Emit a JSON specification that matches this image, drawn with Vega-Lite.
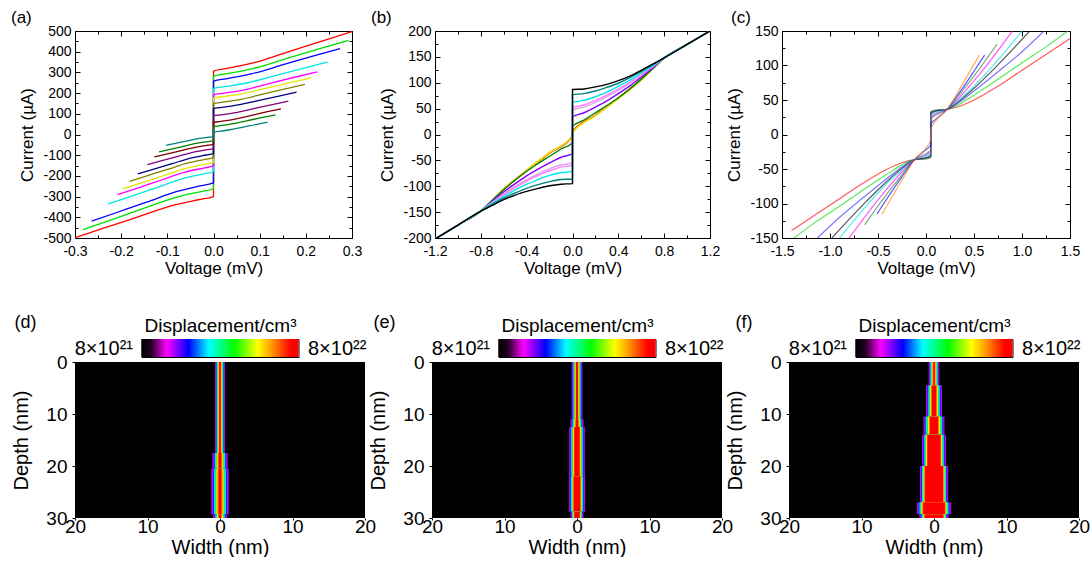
{
"$schema":"https://vega.github.io/schema/vega-lite/v6.json",
"padding":{"left":10,"top":8,"right":0,"bottom":0},
"background":"#ffffff",
"config":{
 "font":"Liberation Sans",
 "view":{"stroke":"#000","strokeWidth":1},
 "axis":{"grid":false,"domain":false,"labelColor":"#000","titleColor":"#000","tickColor":"#000","tickWidth":1,"labelFontSize":14,"titleFontSize":17,"titleFontWeight":"normal","labelFlush":false,"labelOverlap":false,"labelFont":"Liberation Sans","titleFont":"Liberation Sans"},
 "title":{"fontWeight":"normal","color":"#000","font":"Liberation Sans"},
 "locale":{"number":{"decimal":".","thousands":",","grouping":[3],"currency":["$",""],"minus":"-"}}
},
"datasets":{
"a":[
{"s":1,"V":-0.3,"I":-498},{"s":1,"V":-0.24,"I":-454},{"s":1,"V":-0.165,"I":-399},{"s":1,"V":-0.09,"I":-344},{"s":1,"V":-0.03,"I":-314},{"s":1,"V":0,"I":-300},{"s":1,"V":0,"I":306},{"s":1,"V":0.03,"I":319},{"s":1,"V":0.09,"I":348},{"s":1,"V":0.165,"I":402},{"s":1,"V":0.24,"I":455},{"s":1,"V":0.3,"I":497},
{"s":2,"V":-0.283,"I":-460},{"s":2,"V":-0.226,"I":-416},{"s":2,"V":-0.156,"I":-361},{"s":2,"V":-0.085,"I":-306},{"s":2,"V":-0.028,"I":-276},{"s":2,"V":0,"I":-262},{"s":2,"V":0,"I":282},{"s":2,"V":0.029,"I":294},{"s":2,"V":0.088,"I":320},{"s":2,"V":0.161,"I":369},{"s":2,"V":0.234,"I":417},{"s":2,"V":0.293,"I":455},
{"s":3,"V":-0.264,"I":-419},{"s":3,"V":-0.211,"I":-378},{"s":3,"V":-0.145,"I":-327},{"s":3,"V":-0.079,"I":-275},{"s":3,"V":-0.026,"I":-247},{"s":3,"V":0,"I":-234},{"s":3,"V":0,"I":258},{"s":3,"V":0.027,"I":269},{"s":3,"V":0.082,"I":293},{"s":3,"V":0.151,"I":337},{"s":3,"V":0.219,"I":381},{"s":3,"V":0.274,"I":415},
{"s":4,"V":-0.228,"I":-335},{"s":4,"V":-0.182,"I":-301},{"s":4,"V":-0.125,"I":-258},{"s":4,"V":-0.068,"I":-214},{"s":4,"V":-0.023,"I":-191},{"s":4,"V":0,"I":-180},{"s":4,"V":0,"I":222},{"s":4,"V":0.025,"I":231},{"s":4,"V":0.074,"I":250},{"s":4,"V":0.136,"I":286},{"s":4,"V":0.198,"I":322},{"s":4,"V":0.247,"I":350},
{"s":5,"V":-0.208,"I":-290},{"s":5,"V":-0.166,"I":-260},{"s":5,"V":-0.114,"I":-221},{"s":5,"V":-0.062,"I":-182},{"s":5,"V":-0.021,"I":-162},{"s":5,"V":0,"I":-152},{"s":5,"V":0,"I":192},{"s":5,"V":0.023,"I":200},{"s":5,"V":0.068,"I":216},{"s":5,"V":0.124,"I":248},{"s":5,"V":0.18,"I":279},{"s":5,"V":0.225,"I":303},
{"s":6,"V":-0.197,"I":-263},{"s":6,"V":-0.158,"I":-235},{"s":6,"V":-0.108,"I":-199},{"s":6,"V":-0.059,"I":-163},{"s":6,"V":-0.02,"I":-144},{"s":6,"V":0,"I":-135},{"s":6,"V":0,"I":176},{"s":6,"V":0.021,"I":183},{"s":6,"V":0.064,"I":198},{"s":6,"V":0.117,"I":225},{"s":6,"V":0.17,"I":253},{"s":6,"V":0.212,"I":274},
{"s":7,"V":-0.182,"I":-226},{"s":7,"V":-0.146,"I":-201},{"s":7,"V":-0.1,"I":-169},{"s":7,"V":-0.055,"I":-137},{"s":7,"V":-0.018,"I":-120},{"s":7,"V":0,"I":-112},{"s":7,"V":0,"I":150},{"s":7,"V":0.02,"I":156},{"s":7,"V":0.059,"I":170},{"s":7,"V":0.109,"I":196},{"s":7,"V":0.158,"I":222},{"s":7,"V":0.198,"I":242},
{"s":8,"V":-0.164,"I":-190},{"s":8,"V":-0.131,"I":-168},{"s":8,"V":-0.09,"I":-141},{"s":8,"V":-0.049,"I":-114},{"s":8,"V":-0.016,"I":-99},{"s":8,"V":0,"I":-92},{"s":8,"V":0,"I":125},{"s":8,"V":0.018,"I":131},{"s":8,"V":0.054,"I":143},{"s":8,"V":0.099,"I":165},{"s":8,"V":0.144,"I":187},{"s":8,"V":0.18,"I":205},
{"s":9,"V":-0.143,"I":-145},{"s":9,"V":-0.114,"I":-128},{"s":9,"V":-0.079,"I":-107},{"s":9,"V":-0.043,"I":-85},{"s":9,"V":-0.014,"I":-73},{"s":9,"V":0,"I":-68},{"s":9,"V":0,"I":90},{"s":9,"V":0.016,"I":95},{"s":9,"V":0.049,"I":106},{"s":9,"V":0.089,"I":126},{"s":9,"V":0.13,"I":145},{"s":9,"V":0.162,"I":161},
{"s":10,"V":-0.128,"I":-108},{"s":10,"V":-0.102,"I":-95},{"s":10,"V":-0.07,"I":-78},{"s":10,"V":-0.038,"I":-61},{"s":10,"V":-0.013,"I":-52},{"s":10,"V":0,"I":-48},{"s":10,"V":0,"I":58},{"s":10,"V":0.015,"I":63},{"s":10,"V":0.044,"I":73},{"s":10,"V":0.08,"I":91},{"s":10,"V":0.117,"I":110},{"s":10,"V":0.146,"I":124},
{"s":11,"V":-0.118,"I":-84},{"s":11,"V":-0.094,"I":-72},{"s":11,"V":-0.065,"I":-57},{"s":11,"V":-0.035,"I":-42},{"s":11,"V":-0.012,"I":-34},{"s":11,"V":0,"I":-30},{"s":11,"V":0,"I":38},{"s":11,"V":0.013,"I":42},{"s":11,"V":0.04,"I":51},{"s":11,"V":0.074,"I":67},{"s":11,"V":0.107,"I":83},{"s":11,"V":0.134,"I":95},
{"s":12,"V":-0.103,"I":-52},{"s":12,"V":-0.082,"I":-43},{"s":12,"V":-0.057,"I":-31},{"s":12,"V":-0.031,"I":-19},{"s":12,"V":-0.01,"I":-13},{"s":12,"V":0,"I":-10},{"s":12,"V":0,"I":12},{"s":12,"V":0.012,"I":15},{"s":12,"V":0.035,"I":23},{"s":12,"V":0.064,"I":36},{"s":12,"V":0.094,"I":49},{"s":12,"V":0.117,"I":60}
],
"b":[
{"s":1,"V":-1.2,"I":-202},{"s":1,"V":-1.0,"I":-175},{"s":1,"V":-0.8,"I":-148},{"s":1,"V":-0.6,"I":-106},{"s":1,"V":-0.4,"I":-70},{"s":1,"V":-0.2,"I":-36},{"s":1,"V":0,"I":-4},{"s":1,"V":0,"I":5},{"s":1,"V":0.2,"I":37},{"s":1,"V":0.4,"I":70},{"s":1,"V":0.6,"I":106},{"s":1,"V":0.8,"I":148},{"s":1,"V":1.0,"I":174},{"s":1,"V":1.2,"I":200},
{"s":2,"V":-1.2,"I":-202},{"s":2,"V":-1.0,"I":-175},{"s":2,"V":-0.8,"I":-148},{"s":2,"V":-0.6,"I":-105},{"s":2,"V":-0.4,"I":-69},{"s":2,"V":-0.2,"I":-35},{"s":2,"V":0,"I":-2},{"s":2,"V":0,"I":4},{"s":2,"V":0.2,"I":37},{"s":2,"V":0.4,"I":71},{"s":2,"V":0.6,"I":107},{"s":2,"V":0.8,"I":148},{"s":2,"V":1.0,"I":174},{"s":2,"V":1.2,"I":200},
{"s":3,"V":-1.2,"I":-202},{"s":3,"V":-1.0,"I":-175},{"s":3,"V":-0.8,"I":-148},{"s":3,"V":-0.6,"I":-106},{"s":3,"V":-0.4,"I":-69},{"s":3,"V":-0.2,"I":-35},{"s":3,"V":0,"I":-3},{"s":3,"V":0,"I":3},{"s":3,"V":0.2,"I":36},{"s":3,"V":0.4,"I":69},{"s":3,"V":0.6,"I":105},{"s":3,"V":0.8,"I":148},{"s":3,"V":1.0,"I":174},{"s":3,"V":1.2,"I":200},
{"s":4,"V":-1.2,"I":-202},{"s":4,"V":-1.0,"I":-175},{"s":4,"V":-0.8,"I":-148},{"s":4,"V":-0.7,"I":-127},{"s":4,"V":-0.6,"I":-107},{"s":4,"V":-0.5,"I":-88},{"s":4,"V":-0.4,"I":-71},{"s":4,"V":-0.3,"I":-56},{"s":4,"V":-0.2,"I":-42},{"s":4,"V":-0.1,"I":-28},{"s":4,"V":0,"I":-16},{"s":4,"V":0,"I":16},{"s":4,"V":0.1,"I":28},{"s":4,"V":0.2,"I":42},{"s":4,"V":0.3,"I":56},{"s":4,"V":0.4,"I":71},{"s":4,"V":0.5,"I":88},{"s":4,"V":0.6,"I":107},{"s":4,"V":0.7,"I":127},{"s":4,"V":0.8,"I":148},{"s":4,"V":1.0,"I":174},{"s":4,"V":1.2,"I":200},
{"s":5,"V":-1.2,"I":-202},{"s":5,"V":-1.0,"I":-175},{"s":5,"V":-0.8,"I":-148},{"s":5,"V":-0.7,"I":-129},{"s":5,"V":-0.6,"I":-111},{"s":5,"V":-0.5,"I":-95},{"s":5,"V":-0.4,"I":-80},{"s":5,"V":-0.3,"I":-67},{"s":5,"V":-0.2,"I":-55},{"s":5,"V":-0.1,"I":-44},{"s":5,"V":0,"I":-37},{"s":5,"V":0,"I":34},{"s":5,"V":0.1,"I":42},{"s":5,"V":0.2,"I":53},{"s":5,"V":0.3,"I":65},{"s":5,"V":0.4,"I":79},{"s":5,"V":0.5,"I":94},{"s":5,"V":0.6,"I":111},{"s":5,"V":0.7,"I":129},{"s":5,"V":0.8,"I":148},{"s":5,"V":1.0,"I":174},{"s":5,"V":1.2,"I":200},
{"s":6,"V":-1.2,"I":-202},{"s":6,"V":-1.0,"I":-175},{"s":6,"V":-0.8,"I":-148},{"s":6,"V":-0.7,"I":-131},{"s":6,"V":-0.6,"I":-115},{"s":6,"V":-0.5,"I":-100},{"s":6,"V":-0.4,"I":-87},{"s":6,"V":-0.3,"I":-76},{"s":6,"V":-0.2,"I":-66},{"s":6,"V":-0.1,"I":-59},{"s":6,"V":0,"I":-54},{"s":6,"V":0,"I":47},{"s":6,"V":0.1,"I":53},{"s":6,"V":0.2,"I":62},{"s":6,"V":0.3,"I":73},{"s":6,"V":0.4,"I":85},{"s":6,"V":0.5,"I":99},{"s":6,"V":0.6,"I":115},{"s":6,"V":0.7,"I":131},{"s":6,"V":0.8,"I":148},{"s":6,"V":1.0,"I":174},{"s":6,"V":1.2,"I":200},
{"s":7,"V":-1.2,"I":-202},{"s":7,"V":-1.0,"I":-175},{"s":7,"V":-0.8,"I":-148},{"s":7,"V":-0.7,"I":-132},{"s":7,"V":-0.6,"I":-117},{"s":7,"V":-0.5,"I":-102},{"s":7,"V":-0.4,"I":-90},{"s":7,"V":-0.3,"I":-79},{"s":7,"V":-0.2,"I":-70},{"s":7,"V":-0.1,"I":-63},{"s":7,"V":0,"I":-59},{"s":7,"V":0,"I":52},{"s":7,"V":0.1,"I":57},{"s":7,"V":0.2,"I":66},{"s":7,"V":0.3,"I":76},{"s":7,"V":0.4,"I":88},{"s":7,"V":0.5,"I":101},{"s":7,"V":0.6,"I":116},{"s":7,"V":0.7,"I":132},{"s":7,"V":0.8,"I":148},{"s":7,"V":1.0,"I":174},{"s":7,"V":1.2,"I":200},
{"s":8,"V":-1.2,"I":-202},{"s":8,"V":-1.0,"I":-175},{"s":8,"V":-0.8,"I":-148},{"s":8,"V":-0.7,"I":-133},{"s":8,"V":-0.6,"I":-120},{"s":8,"V":-0.5,"I":-107},{"s":8,"V":-0.4,"I":-96},{"s":8,"V":-0.3,"I":-87},{"s":8,"V":-0.2,"I":-79},{"s":8,"V":-0.1,"I":-74},{"s":8,"V":0,"I":-71},{"s":8,"V":0,"I":62},{"s":8,"V":0.1,"I":66},{"s":8,"V":0.2,"I":73},{"s":8,"V":0.3,"I":82},{"s":8,"V":0.4,"I":93},{"s":8,"V":0.5,"I":105},{"s":8,"V":0.6,"I":119},{"s":8,"V":0.7,"I":133},{"s":8,"V":0.8,"I":148},{"s":8,"V":1.0,"I":174},{"s":8,"V":1.2,"I":200},
{"s":9,"V":-1.2,"I":-202},{"s":9,"V":-1.0,"I":-175},{"s":9,"V":-0.8,"I":-148},{"s":9,"V":-0.7,"I":-135},{"s":9,"V":-0.6,"I":-123},{"s":9,"V":-0.5,"I":-113},{"s":9,"V":-0.4,"I":-104},{"s":9,"V":-0.3,"I":-97},{"s":9,"V":-0.2,"I":-91},{"s":9,"V":-0.1,"I":-87},{"s":9,"V":0,"I":-86},{"s":9,"V":0,"I":77},{"s":9,"V":0.1,"I":79},{"s":9,"V":0.2,"I":84},{"s":9,"V":0.3,"I":91},{"s":9,"V":0.4,"I":99},{"s":9,"V":0.5,"I":110},{"s":9,"V":0.6,"I":122},{"s":9,"V":0.7,"I":135},{"s":9,"V":0.8,"I":148},{"s":9,"V":1.0,"I":174},{"s":9,"V":1.2,"I":200},
{"s":10,"V":-1.2,"I":-202},{"s":10,"V":-1.0,"I":-175},{"s":10,"V":-0.8,"I":-148},{"s":10,"V":-0.7,"I":-137},{"s":10,"V":-0.6,"I":-126},{"s":10,"V":-0.5,"I":-117},{"s":10,"V":-0.4,"I":-110},{"s":10,"V":-0.3,"I":-104},{"s":10,"V":-0.2,"I":-99},{"s":10,"V":-0.1,"I":-96},{"s":10,"V":0,"I":-95},{"s":10,"V":0,"I":87},{"s":10,"V":0.1,"I":88},{"s":10,"V":0.2,"I":92},{"s":10,"V":0.3,"I":97},{"s":10,"V":0.4,"I":104},{"s":10,"V":0.5,"I":113},{"s":10,"V":0.6,"I":124},{"s":10,"V":0.7,"I":136},{"s":10,"V":0.8,"I":148},{"s":10,"V":1.0,"I":174},{"s":10,"V":1.2,"I":200}
],
"c":[
{"s":1,"V":-1.4,"I":-139},{"s":1,"V":-1.15,"I":-116},{"s":1,"V":-0.9,"I":-93},{"s":1,"V":-0.65,"I":-70},{"s":1,"V":-0.4,"I":-50},{"s":1,"V":-0.25,"I":-41},{"s":1,"V":-0.12,"I":-36.5},{"s":1,"V":0.01,"I":-35},{"s":1,"V":0.05,"I":-33},{"s":1,"V":0.05,"I":33},{"s":1,"V":0.09,"I":35},{"s":1,"V":0.22,"I":36.5},{"s":1,"V":0.35,"I":41},{"s":1,"V":0.5,"I":50},{"s":1,"V":0.75,"I":70},{"s":1,"V":1.0,"I":93},{"s":1,"V":1.25,"I":116},{"s":1,"V":1.5,"I":139},
{"s":2,"V":-1.376,"I":-150},{"s":2,"V":-1.15,"I":-127},{"s":2,"V":-0.9,"I":-104},{"s":2,"V":-0.65,"I":-80},{"s":2,"V":-0.4,"I":-57},{"s":2,"V":-0.25,"I":-44},{"s":2,"V":-0.12,"I":-36.5},{"s":2,"V":0.01,"I":-35},{"s":2,"V":0.05,"I":-33},{"s":2,"V":0.05,"I":33},{"s":2,"V":0.09,"I":35},{"s":2,"V":0.22,"I":36.5},{"s":2,"V":0.35,"I":44},{"s":2,"V":0.5,"I":57},{"s":2,"V":0.75,"I":80},{"s":2,"V":1.0,"I":104},{"s":2,"V":1.25,"I":127},{"s":2,"V":1.476,"I":150},
{"s":3,"V":-1.13,"I":-150},{"s":3,"V":-0.9,"I":-120},{"s":3,"V":-0.65,"I":-91},{"s":3,"V":-0.4,"I":-63},{"s":3,"V":-0.25,"I":-47},{"s":3,"V":-0.12,"I":-36.5},{"s":3,"V":0.01,"I":-34},{"s":3,"V":0.05,"I":-32},{"s":3,"V":0.05,"I":32},{"s":3,"V":0.09,"I":34},{"s":3,"V":0.22,"I":36.5},{"s":3,"V":0.35,"I":47},{"s":3,"V":0.5,"I":63},{"s":3,"V":0.75,"I":91},{"s":3,"V":1.0,"I":120},{"s":3,"V":1.23,"I":150},
{"s":4,"V":-0.98,"I":-150},{"s":4,"V":-0.65,"I":-101},{"s":4,"V":-0.4,"I":-67},{"s":4,"V":-0.25,"I":-49},{"s":4,"V":-0.12,"I":-36.5},{"s":4,"V":0.01,"I":-33},{"s":4,"V":0.05,"I":-30},{"s":4,"V":0.05,"I":30},{"s":4,"V":0.09,"I":33},{"s":4,"V":0.22,"I":36.5},{"s":4,"V":0.35,"I":49},{"s":4,"V":0.5,"I":67},{"s":4,"V":0.75,"I":101},{"s":4,"V":1.08,"I":150},
{"s":5,"V":-0.9,"I":-150},{"s":5,"V":-0.65,"I":-108},{"s":5,"V":-0.4,"I":-70},{"s":5,"V":-0.25,"I":-51},{"s":5,"V":-0.12,"I":-36.5},{"s":5,"V":0.01,"I":-31},{"s":5,"V":0.05,"I":-28},{"s":5,"V":0.05,"I":28},{"s":5,"V":0.09,"I":31},{"s":5,"V":0.22,"I":36.5},{"s":5,"V":0.35,"I":51},{"s":5,"V":0.5,"I":70},{"s":5,"V":0.75,"I":108},{"s":5,"V":1.0,"I":150},
{"s":6,"V":-0.8,"I":-150},{"s":6,"V":-0.45,"I":-86},{"s":6,"V":-0.25,"I":-54},{"s":6,"V":-0.12,"I":-36.5},{"s":6,"V":0.01,"I":-29},{"s":6,"V":0.05,"I":-25},{"s":6,"V":0.05,"I":25},{"s":6,"V":0.09,"I":29},{"s":6,"V":0.22,"I":36.5},{"s":6,"V":0.35,"I":54},{"s":6,"V":0.55,"I":86},{"s":6,"V":0.9,"I":150},
{"s":7,"V":-0.64,"I":-131},{"s":7,"V":-0.45,"I":-94},{"s":7,"V":-0.25,"I":-58},{"s":7,"V":-0.12,"I":-36.5},{"s":7,"V":0.01,"I":-27},{"s":7,"V":0.05,"I":-22},{"s":7,"V":0.05,"I":22},{"s":7,"V":0.09,"I":27},{"s":7,"V":0.22,"I":36.5},{"s":7,"V":0.35,"I":58},{"s":7,"V":0.55,"I":94},{"s":7,"V":0.74,"I":131},
{"s":8,"V":-0.51,"I":-115},{"s":8,"V":-0.25,"I":-61},{"s":8,"V":-0.12,"I":-36.5},{"s":8,"V":0,"I":-22},{"s":8,"V":0.05,"I":-15},{"s":8,"V":0.05,"I":15},{"s":8,"V":0.1,"I":22},{"s":8,"V":0.22,"I":36.5},{"s":8,"V":0.35,"I":61},{"s":8,"V":0.61,"I":115},
{"s":9,"V":-0.456,"I":-115},{"s":9,"V":-0.25,"I":-66},{"s":9,"V":-0.12,"I":-36.5},{"s":9,"V":0.05,"I":-8},{"s":9,"V":0.05,"I":8},{"s":9,"V":0.22,"I":36.5},{"s":9,"V":0.35,"I":66},{"s":9,"V":0.556,"I":115}
],
"d":[
{"x1":-0.68,"x2":0.68,"d1":0,"d2":17.5,"v":1},{"x1":-0.56,"x2":0.56,"d1":0,"d2":17.5,"v":2},{"x1":-0.46,"x2":0.46,"d1":0,"d2":17.5,"v":3},{"x1":-0.37,"x2":0.37,"d1":0,"d2":17.5,"v":4},{"x1":-0.29,"x2":0.29,"d1":0,"d2":17.5,"v":5},{"x1":-0.2,"x2":0.2,"d1":0,"d2":17.5,"v":6},{"x1":-0.12,"x2":0.12,"d1":0,"d2":17.5,"v":7},
{"x1":-1.05,"x2":1.05,"d1":17.5,"d2":20.5,"v":1},{"x1":-0.86,"x2":0.86,"d1":17.5,"d2":20.5,"v":2},{"x1":-0.71,"x2":0.71,"d1":17.5,"d2":20.5,"v":3},{"x1":-0.58,"x2":0.58,"d1":17.5,"d2":20.5,"v":4},{"x1":-0.44,"x2":0.44,"d1":17.5,"d2":20.5,"v":5},{"x1":-0.32,"x2":0.32,"d1":17.5,"d2":20.5,"v":6},{"x1":-0.18,"x2":0.18,"d1":17.5,"d2":20.5,"v":7},
{"x1":-1.2,"x2":1.2,"d1":20.5,"d2":29.3,"v":1},{"x1":-0.98,"x2":0.98,"d1":20.5,"d2":29.3,"v":2},{"x1":-0.82,"x2":0.82,"d1":20.5,"d2":29.3,"v":3},{"x1":-0.66,"x2":0.66,"d1":20.5,"d2":29.3,"v":4},{"x1":-0.5,"x2":0.5,"d1":20.5,"d2":29.3,"v":5},{"x1":-0.36,"x2":0.36,"d1":20.5,"d2":29.3,"v":6},{"x1":-0.2,"x2":0.2,"d1":20.5,"d2":29.3,"v":7},
{"x1":-0.95,"x2":0.95,"d1":29.3,"d2":30,"v":1},{"x1":-0.78,"x2":0.78,"d1":29.3,"d2":30,"v":2},{"x1":-0.65,"x2":0.65,"d1":29.3,"d2":30,"v":3},{"x1":-0.52,"x2":0.52,"d1":29.3,"d2":30,"v":4},{"x1":-0.4,"x2":0.4,"d1":29.3,"d2":30,"v":5},{"x1":-0.28,"x2":0.28,"d1":29.3,"d2":30,"v":6},{"x1":-0.16,"x2":0.16,"d1":29.3,"d2":30,"v":7}
],
"e":[
{"x1":-0.74,"x2":0.74,"d1":0,"d2":11,"v":1},{"x1":-0.61,"x2":0.61,"d1":0,"d2":11,"v":2},{"x1":-0.5,"x2":0.5,"d1":0,"d2":11,"v":3},{"x1":-0.41,"x2":0.41,"d1":0,"d2":11,"v":4},{"x1":-0.31,"x2":0.31,"d1":0,"d2":11,"v":5},{"x1":-0.22,"x2":0.22,"d1":0,"d2":11,"v":6},{"x1":-0.13,"x2":0.13,"d1":0,"d2":11,"v":7},
{"x1":-0.9,"x2":0.9,"d1":11,"d2":12.5,"v":1},{"x1":-0.74,"x2":0.74,"d1":11,"d2":12.5,"v":2},{"x1":-0.61,"x2":0.61,"d1":11,"d2":12.5,"v":3},{"x1":-0.5,"x2":0.5,"d1":11,"d2":12.5,"v":4},{"x1":-0.38,"x2":0.38,"d1":11,"d2":12.5,"v":5},{"x1":-0.27,"x2":0.27,"d1":11,"d2":12.5,"v":6},{"x1":-0.15,"x2":0.15,"d1":11,"d2":12.5,"v":7},
{"x1":-1.08,"x2":1.08,"d1":12.5,"d2":22,"v":1},{"x1":-0.93,"x2":0.93,"d1":12.5,"d2":22,"v":2},{"x1":-0.8,"x2":0.8,"d1":12.5,"d2":22,"v":3},{"x1":-0.68,"x2":0.68,"d1":12.5,"d2":22,"v":4},{"x1":-0.57,"x2":0.57,"d1":12.5,"d2":22,"v":5},{"x1":-0.46,"x2":0.46,"d1":12.5,"d2":22,"v":6},{"x1":-0.36,"x2":0.36,"d1":12.5,"d2":22,"v":7},
{"x1":-1.1,"x2":1.1,"d1":22,"d2":28.8,"v":1},{"x1":-0.96,"x2":0.96,"d1":22,"d2":28.8,"v":2},{"x1":-0.84,"x2":0.84,"d1":22,"d2":28.8,"v":3},{"x1":-0.73,"x2":0.73,"d1":22,"d2":28.8,"v":4},{"x1":-0.63,"x2":0.63,"d1":22,"d2":28.8,"v":5},{"x1":-0.54,"x2":0.54,"d1":22,"d2":28.8,"v":6},{"x1":-0.45,"x2":0.45,"d1":22,"d2":28.8,"v":7},
{"x1":-0.9,"x2":0.9,"d1":28.8,"d2":30,"v":1},{"x1":-0.78,"x2":0.78,"d1":28.8,"d2":30,"v":2},{"x1":-0.68,"x2":0.68,"d1":28.8,"d2":30,"v":3},{"x1":-0.59,"x2":0.59,"d1":28.8,"d2":30,"v":4},{"x1":-0.51,"x2":0.51,"d1":28.8,"d2":30,"v":5},{"x1":-0.44,"x2":0.44,"d1":28.8,"d2":30,"v":6},{"x1":-0.37,"x2":0.37,"d1":28.8,"d2":30,"v":7}
],
"f":[
{"x1":-0.73,"x2":0.73,"d1":0,"d2":4.5,"v":1},{"x1":-0.6,"x2":0.6,"d1":0,"d2":4.5,"v":2},{"x1":-0.5,"x2":0.5,"d1":0,"d2":4.5,"v":3},{"x1":-0.4,"x2":0.4,"d1":0,"d2":4.5,"v":4},{"x1":-0.31,"x2":0.31,"d1":0,"d2":4.5,"v":5},{"x1":-0.22,"x2":0.22,"d1":0,"d2":4.5,"v":6},{"x1":-0.12,"x2":0.12,"d1":0,"d2":4.5,"v":7},
{"x1":-1.1,"x2":1.1,"d1":4.5,"d2":10.5,"v":1},{"x1":-0.94,"x2":0.94,"d1":4.5,"d2":10.5,"v":2},{"x1":-0.79,"x2":0.79,"d1":4.5,"d2":10.5,"v":3},{"x1":-0.66,"x2":0.66,"d1":4.5,"d2":10.5,"v":4},{"x1":-0.53,"x2":0.53,"d1":4.5,"d2":10.5,"v":5},{"x1":-0.42,"x2":0.42,"d1":4.5,"d2":10.5,"v":6},{"x1":-0.3,"x2":0.3,"d1":4.5,"d2":10.5,"v":7},
{"x1":-1.45,"x2":1.45,"d1":10.5,"d2":14,"v":1},{"x1":-1.28,"x2":1.28,"d1":10.5,"d2":14,"v":2},{"x1":-1.13,"x2":1.13,"d1":10.5,"d2":14,"v":3},{"x1":-0.99,"x2":0.99,"d1":10.5,"d2":14,"v":4},{"x1":-0.84,"x2":0.84,"d1":10.5,"d2":14,"v":5},{"x1":-0.7,"x2":0.7,"d1":10.5,"d2":14,"v":6},{"x1":-0.55,"x2":0.55,"d1":10.5,"d2":14,"v":7},
{"x1":-1.65,"x2":1.65,"d1":14,"d2":20,"v":1},{"x1":-1.49,"x2":1.49,"d1":14,"d2":20,"v":2},{"x1":-1.35,"x2":1.35,"d1":14,"d2":20,"v":3},{"x1":-1.22,"x2":1.22,"d1":14,"d2":20,"v":4},{"x1":-1.11,"x2":1.11,"d1":14,"d2":20,"v":5},{"x1":-0.99,"x2":0.99,"d1":14,"d2":20,"v":6},{"x1":-0.91,"x2":0.91,"d1":14,"d2":20,"v":7},
{"x1":-1.95,"x2":1.95,"d1":20,"d2":27,"v":1},{"x1":-1.79,"x2":1.79,"d1":20,"d2":27,"v":2},{"x1":-1.66,"x2":1.66,"d1":20,"d2":27,"v":3},{"x1":-1.54,"x2":1.54,"d1":20,"d2":27,"v":4},{"x1":-1.44,"x2":1.44,"d1":20,"d2":27,"v":5},{"x1":-1.35,"x2":1.35,"d1":20,"d2":27,"v":6},{"x1":-1.25,"x2":1.25,"d1":20,"d2":27,"v":7},
{"x1":-2.35,"x2":2.35,"d1":27,"d2":29.3,"v":1},{"x1":-2.16,"x2":2.16,"d1":27,"d2":29.3,"v":2},{"x1":-2.0,"x2":2.0,"d1":27,"d2":29.3,"v":3},{"x1":-1.86,"x2":1.86,"d1":27,"d2":29.3,"v":4},{"x1":-1.74,"x2":1.74,"d1":27,"d2":29.3,"v":5},{"x1":-1.62,"x2":1.62,"d1":27,"d2":29.3,"v":6},{"x1":-1.5,"x2":1.5,"d1":27,"d2":29.3,"v":7},
{"x1":-2.0,"x2":2.0,"d1":29.3,"d2":30,"v":1},{"x1":-1.84,"x2":1.84,"d1":29.3,"d2":30,"v":2},{"x1":-1.7,"x2":1.7,"d1":29.3,"d2":30,"v":3},{"x1":-1.58,"x2":1.58,"d1":29.3,"d2":30,"v":4},{"x1":-1.48,"x2":1.48,"d1":29.3,"d2":30,"v":5},{"x1":-1.38,"x2":1.38,"d1":29.3,"d2":30,"v":6},{"x1":-1.28,"x2":1.28,"d1":29.3,"d2":30,"v":7}
],
"cb":[{"lo":0,"hi":1}]
},
"vconcat":[
{"hconcat":[
 {"width":277,"height":207,
  "title":{"text":"(a)","anchor":"start","frame":"group","dx":-64,"dy":3,"offset":0,"fontSize":17},
  "data":{"name":"a"},
  "layer":[
   {"mark":{"type":"line","strokeWidth":1.3,"clip":true,"interpolate":"monotone"},
    "encoding":{
     "x":{"field":"V","type":"quantitative","scale":{"domain":[-0.3,0.3],"nice":false,"zero":false},"axis":{"orient":"bottom","values":[-0.3,-0.2,-0.1,0,0.1,0.2,0.3],"format":".1f","tickSize":-5,"labelPadding":11,"title":"Voltage (mV)","titlePadding":2}},
     "y":{"field":"I","type":"quantitative","scale":{"domain":[-500,500],"nice":false,"zero":false},"axis":{"orient":"left","values":[-500,-400,-300,-200,-100,0,100,200,300,400,500],"format":"d","tickSize":-5,"labelPadding":9,"title":"Current (µA)","titlePadding":6}},
     "color":{"field":"s","type":"nominal","scale":{"domain":[1,2,3,4,5,6,7,8,9,10,11,12],"range":["#ff0000","#00e000","#0000ff","#00e5e5","#ff00ff","#e6e600","#808000","#000080","#800080","#800000","#008000","#008080"]},"legend":null},
     "order":{"field":"I","type":"quantitative"}}},
   {"mark":{"type":"point","opacity":0},
    "encoding":{
     "x":{"field":"V","type":"quantitative","scale":{"domain":[-0.3,0.3],"nice":false,"zero":false},"axis":{"orient":"top","values":[-0.3,-0.2,-0.1,0,0.1,0.2,0.3],"labels":false,"tickSize":-5,"title":null}},
     "y":{"field":"I","type":"quantitative","scale":{"domain":[-500,500],"nice":false,"zero":false},"axis":{"orient":"right","values":[-500,-400,-300,-200,-100,0,100,200,300,400,500],"labels":false,"tickSize":-5,"title":null}}}},
   {"mark":{"type":"point","opacity":0},
    "encoding":{
     "x":{"field":"V","type":"quantitative","scale":{"domain":[-0.3,0.3],"nice":false,"zero":false},"axis":{"orient":"bottom","values":[-0.25,-0.15,-0.05,0.05,0.15,0.25],"labels":false,"tickSize":-3,"title":null}},
     "y":{"field":"I","type":"quantitative","scale":{"domain":[-500,500],"nice":false,"zero":false},"axis":{"orient":"left","values":[-450,-350,-250,-150,-50,50,150,250,350,450],"labels":false,"tickSize":-3,"title":null}}}},
   {"mark":{"type":"point","opacity":0},
    "encoding":{
     "x":{"field":"V","type":"quantitative","scale":{"domain":[-0.3,0.3],"nice":false,"zero":false},"axis":{"orient":"top","values":[-0.25,-0.15,-0.05,0.05,0.15,0.25],"labels":false,"tickSize":-3,"title":null}},
     "y":{"field":"I","type":"quantitative","scale":{"domain":[-500,500],"nice":false,"zero":false},"axis":{"orient":"right","values":[-450,-350,-250,-150,-50,50,150,250,350,450],"labels":false,"tickSize":-3,"title":null}}}}
  ],
  "resolve":{"axis":{"x":"independent","y":"independent"}}
 },
 {"hconcat":[
  {"width":275,"height":207,
   "title":{"text":"(b)","anchor":"start","frame":"group","dx":-64,"dy":3,"offset":0,"fontSize":17},
   "data":{"name":"b"},
   "layer":[
    {"mark":{"type":"line","strokeWidth":1.4,"clip":true,"interpolate":"monotone"},
     "encoding":{
      "x":{"field":"V","type":"quantitative","scale":{"domain":[-1.2,1.2],"nice":false,"zero":false},"axis":{"orient":"bottom","values":[-1.2,-0.8,-0.4,0,0.4,0.8,1.2],"format":".1f","tickSize":-5,"labelPadding":11,"title":"Voltage (mV)","titlePadding":2}},
      "y":{"field":"I","type":"quantitative","scale":{"domain":[-200,200],"nice":false,"zero":false},"axis":{"orient":"left","values":[-200,-150,-100,-50,0,50,100,150,200],"format":"d","tickSize":-5,"labelPadding":9,"title":"Current (µA)","titlePadding":6}},
      "color":{"field":"s","type":"nominal","scale":{"domain":[1,2,3,4,5,6,7,8,9,10],"range":["#ff0000","#ff8000","#e6e600","#008000","#8000ff","#e0a0f0","#ff80ff","#00e5ee","#008080","#000000"]},"legend":null},
      "order":{"field":"I","type":"quantitative"}}},
    {"mark":{"type":"point","opacity":0},
     "encoding":{
      "x":{"field":"V","type":"quantitative","scale":{"domain":[-1.2,1.2],"nice":false,"zero":false},"axis":{"orient":"top","values":[-1.2,-0.8,-0.4,0,0.4,0.8,1.2],"labels":false,"tickSize":-5,"title":null}},
      "y":{"field":"I","type":"quantitative","scale":{"domain":[-200,200],"nice":false,"zero":false},"axis":{"orient":"right","values":[-200,-150,-100,-50,0,50,100,150,200],"labels":false,"tickSize":-5,"title":null}}}},
    {"mark":{"type":"point","opacity":0},
     "encoding":{
      "x":{"field":"V","type":"quantitative","scale":{"domain":[-1.2,1.2],"nice":false,"zero":false},"axis":{"orient":"bottom","values":[-1,-0.6,-0.2,0.2,0.6,1],"labels":false,"tickSize":-3,"title":null}},
      "y":{"field":"I","type":"quantitative","scale":{"domain":[-200,200],"nice":false,"zero":false},"axis":{"orient":"left","values":[-175,-125,-75,-25,25,75,125,175],"labels":false,"tickSize":-3,"title":null}}}},
    {"mark":{"type":"point","opacity":0},
     "encoding":{
      "x":{"field":"V","type":"quantitative","scale":{"domain":[-1.2,1.2],"nice":false,"zero":false},"axis":{"orient":"top","values":[-1,-0.6,-0.2,0.2,0.6,1],"labels":false,"tickSize":-3,"title":null}},
      "y":{"field":"I","type":"quantitative","scale":{"domain":[-200,200],"nice":false,"zero":false},"axis":{"orient":"right","values":[-175,-125,-75,-25,25,75,125,175],"labels":false,"tickSize":-3,"title":null}}}}
   ],
   "resolve":{"axis":{"x":"independent","y":"independent"}}
  },
  {"width":288,"height":207,
   "title":{"text":"(c)","anchor":"start","frame":"group","dx":-51,"dy":3,"offset":0,"fontSize":17},
   "data":{"name":"c"},
   "layer":[
    {"mark":{"type":"line","strokeWidth":1.2,"opacity":0.65,"clip":true,"interpolate":"monotone"},
     "encoding":{
      "x":{"field":"V","type":"quantitative","scale":{"domain":[-1.5,1.5],"nice":false,"zero":false},"axis":{"orient":"bottom","values":[-1.5,-1,-0.5,0,0.5,1,1.5],"format":".1f","tickSize":-5,"labelPadding":11,"title":"Voltage (mV)","titlePadding":2}},
      "y":{"field":"I","type":"quantitative","scale":{"domain":[-150,150],"nice":false,"zero":false},"axis":{"orient":"left","values":[-150,-100,-50,0,50,100,150],"format":"d","tickSize":-5,"labelPadding":9,"title":"Current (µA)","titlePadding":6}},
      "color":{"field":"s","type":"nominal","scale":{"domain":[1,2,3,4,5,6,7,8,9],"range":["#ff0000","#00dd00","#3030ff","#000000","#00e0ee","#ff00ff","#408040","#0000ff","#ff8000"]},"legend":null},
      "order":{"field":"I","type":"quantitative"}}},
    {"mark":{"type":"point","opacity":0},
     "encoding":{
      "x":{"field":"V","type":"quantitative","scale":{"domain":[-1.5,1.5],"nice":false,"zero":false},"axis":{"orient":"top","values":[-1.5,-1,-0.5,0,0.5,1,1.5],"labels":false,"tickSize":-5,"title":null}},
      "y":{"field":"I","type":"quantitative","scale":{"domain":[-150,150],"nice":false,"zero":false},"axis":{"orient":"right","values":[-150,-100,-50,0,50,100,150],"labels":false,"tickSize":-5,"title":null}}}},
    {"mark":{"type":"point","opacity":0},
     "encoding":{
      "x":{"field":"V","type":"quantitative","scale":{"domain":[-1.5,1.5],"nice":false,"zero":false},"axis":{"orient":"bottom","values":[-1.25,-0.75,-0.25,0.25,0.75,1.25],"labels":false,"tickSize":-3,"title":null}},
      "y":{"field":"I","type":"quantitative","scale":{"domain":[-150,150],"nice":false,"zero":false},"axis":{"orient":"left","values":[-125,-75,-25,25,75,125],"labels":false,"tickSize":-3,"title":null}}}},
    {"mark":{"type":"point","opacity":0},
     "encoding":{
      "x":{"field":"V","type":"quantitative","scale":{"domain":[-1.5,1.5],"nice":false,"zero":false},"axis":{"orient":"top","values":[-1.25,-0.75,-0.25,0.25,0.75,1.25],"labels":false,"tickSize":-3,"title":null}},
      "y":{"field":"I","type":"quantitative","scale":{"domain":[-150,150],"nice":false,"zero":false},"axis":{"orient":"right","values":[-125,-75,-25,25,75,125],"labels":false,"tickSize":-3,"title":null}}}}
   ],
   "resolve":{"axis":{"x":"independent","y":"independent"}}
  }
 ],"spacing":72,"bounds":"flush","resolve":{"scale":{"color":"independent"}}}
],"spacing":83,"bounds":"flush","resolve":{"scale":{"color":"independent"}}},
{"hconcat":[
 {"vconcat":[
  {"width":157,"height":18,
   "title":{"text":"(d)","anchor":"start","frame":"group","dx":-127,"dy":16,"offset":0,"fontSize":18},
   "data":{"name":"cb"},
   "layer":[
    {"mark":{"type":"rect","color":{"gradient":"linear","x1":0,"y1":0,"x2":1,"y2":0,"stops":[{"offset":0,"color":"#000000"},{"offset":0.06,"color":"#200020"},{"offset":0.16,"color":"#ff00ff"},{"offset":0.23,"color":"#8000ff"},{"offset":0.3,"color":"#0000ff"},{"offset":0.43,"color":"#00ffff"},{"offset":0.59,"color":"#00ff00"},{"offset":0.74,"color":"#ffff00"},{"offset":0.84,"color":"#ff8c00"},{"offset":0.95,"color":"#ff0000"},{"offset":1,"color":"#ff0000"}]}},
     "encoding":{
      "x":{"field":"lo","type":"quantitative","scale":{"domain":[0,1],"nice":false},"axis":{"orient":"top","labels":false,"ticks":false,"title":"Displacement/cm³","titleFontSize":19,"titlePadding":4}},
      "x2":{"field":"hi"},
      "y":{"field":"lo","type":"quantitative","scale":{"domain":[0,1],"nice":false},"axis":{"orient":"left","values":[0.5],"labelExpr":"'8×10²¹'","ticks":false,"labelFontSize":20,"labelPadding":9,"title":null}},
      "y2":{"field":"hi"}}},
    {"mark":{"type":"rect","opacity":0},
     "encoding":{
      "x":{"field":"lo","type":"quantitative","scale":{"domain":[0,1],"nice":false},"axis":{"orient":"top","labels":false,"ticks":false,"title":"Displacement/cm³","titleFontSize":19,"titlePadding":4}},
      "x2":{"field":"hi"},
      "y":{"field":"lo","type":"quantitative","scale":{"domain":[0,1],"nice":false},"axis":{"orient":"right","values":[0.5],"labelExpr":"'8×10²²'","ticks":false,"labelFontSize":20,"labelPadding":9,"title":null}},
      "y2":{"field":"hi"}}}
   ],
   "resolve":{"axis":{"y":"independent"}}
  },
  {"width":290,"height":156,
   "view":{"fill":"#000000","stroke":null},
   "data":{"name":"d"},
   "mark":{"type":"rect"},
   "encoding":{
    "x":{"field":"x1","type":"quantitative","scale":{"domain":[-20,20],"nice":false,"zero":false},"axis":{"values":[-20,-10,0,10,20],"labelExpr":"abs(datum.value)","tickSize":2,"labelPadding":-3,"labelFontSize":19,"title":"Width (nm)","titleFontSize":20,"titlePadding":1}},
    "x2":{"field":"x2"},
    "y":{"field":"d1","type":"quantitative","scale":{"domain":[0,30],"nice":false,"zero":false,"reverse":true},"axis":{"values":[0,10,20,30],"tickSize":3,"labelPadding":5,"labelFontSize":19,"title":"Depth (nm)","titleFontSize":20,"titlePadding":14}},
    "y2":{"field":"d2"},
    "fill":{"field":"v","type":"ordinal","scale":{"domain":[1,2,3,4,5,6,7],"range":["#c000ff","#2020ff","#00e8ff","#00ff30","#ffee00","#ff8000","#ff0000"]},"legend":null}}
  }
 ],"spacing":5,"center":true,"bounds":"flush"},
 {"vconcat":[
  {"width":157,"height":18,
   "title":{"text":"(e)","anchor":"start","frame":"group","dx":-125,"dy":16,"offset":0,"fontSize":18},
   "data":{"name":"cb"},
   "layer":[
    {"mark":{"type":"rect","color":{"gradient":"linear","x1":0,"y1":0,"x2":1,"y2":0,"stops":[{"offset":0,"color":"#000000"},{"offset":0.06,"color":"#200020"},{"offset":0.16,"color":"#ff00ff"},{"offset":0.23,"color":"#8000ff"},{"offset":0.3,"color":"#0000ff"},{"offset":0.43,"color":"#00ffff"},{"offset":0.59,"color":"#00ff00"},{"offset":0.74,"color":"#ffff00"},{"offset":0.84,"color":"#ff8c00"},{"offset":0.95,"color":"#ff0000"},{"offset":1,"color":"#ff0000"}]}},
     "encoding":{
      "x":{"field":"lo","type":"quantitative","scale":{"domain":[0,1],"nice":false},"axis":{"orient":"top","labels":false,"ticks":false,"title":"Displacement/cm³","titleFontSize":19,"titlePadding":4}},
      "x2":{"field":"hi"},
      "y":{"field":"lo","type":"quantitative","scale":{"domain":[0,1],"nice":false},"axis":{"orient":"left","values":[0.5],"labelExpr":"'8×10²¹'","ticks":false,"labelFontSize":20,"labelPadding":9,"title":null}},
      "y2":{"field":"hi"}}},
    {"mark":{"type":"rect","opacity":0},
     "encoding":{
      "x":{"field":"lo","type":"quantitative","scale":{"domain":[0,1],"nice":false},"axis":{"orient":"top","labels":false,"ticks":false,"title":"Displacement/cm³","titleFontSize":19,"titlePadding":4}},
      "x2":{"field":"hi"},
      "y":{"field":"lo","type":"quantitative","scale":{"domain":[0,1],"nice":false},"axis":{"orient":"right","values":[0.5],"labelExpr":"'8×10²²'","ticks":false,"labelFontSize":20,"labelPadding":9,"title":null}},
      "y2":{"field":"hi"}}}
   ],
   "resolve":{"axis":{"y":"independent"}}
  },
  {"width":290,"height":156,
   "view":{"fill":"#000000","stroke":null},
   "data":{"name":"e"},
   "mark":{"type":"rect"},
   "encoding":{
    "x":{"field":"x1","type":"quantitative","scale":{"domain":[-20,20],"nice":false,"zero":false},"axis":{"values":[-20,-10,0,10,20],"labelExpr":"abs(datum.value)","tickSize":2,"labelPadding":-3,"labelFontSize":19,"title":"Width (nm)","titleFontSize":20,"titlePadding":1}},
    "x2":{"field":"x2"},
    "y":{"field":"d1","type":"quantitative","scale":{"domain":[0,30],"nice":false,"zero":false,"reverse":true},"axis":{"values":[0,10,20,30],"tickSize":3,"labelPadding":5,"labelFontSize":19,"title":"Depth (nm)","titleFontSize":20,"titlePadding":14}},
    "y2":{"field":"d2"},
    "fill":{"field":"v","type":"ordinal","scale":{"domain":[1,2,3,4,5,6,7],"range":["#c000ff","#2020ff","#00e8ff","#00ff30","#ffee00","#ff8000","#ff0000"]},"legend":null}}
  }
 ],"spacing":5,"center":true,"bounds":"flush"},
 {"vconcat":[
  {"width":157,"height":18,
   "title":{"text":"(f)","anchor":"start","frame":"group","dx":-120,"dy":16,"offset":0,"fontSize":18},
   "data":{"name":"cb"},
   "layer":[
    {"mark":{"type":"rect","color":{"gradient":"linear","x1":0,"y1":0,"x2":1,"y2":0,"stops":[{"offset":0,"color":"#000000"},{"offset":0.06,"color":"#200020"},{"offset":0.16,"color":"#ff00ff"},{"offset":0.23,"color":"#8000ff"},{"offset":0.3,"color":"#0000ff"},{"offset":0.43,"color":"#00ffff"},{"offset":0.59,"color":"#00ff00"},{"offset":0.74,"color":"#ffff00"},{"offset":0.84,"color":"#ff8c00"},{"offset":0.95,"color":"#ff0000"},{"offset":1,"color":"#ff0000"}]}},
     "encoding":{
      "x":{"field":"lo","type":"quantitative","scale":{"domain":[0,1],"nice":false},"axis":{"orient":"top","labels":false,"ticks":false,"title":"Displacement/cm³","titleFontSize":19,"titlePadding":4}},
      "x2":{"field":"hi"},
      "y":{"field":"lo","type":"quantitative","scale":{"domain":[0,1],"nice":false},"axis":{"orient":"left","values":[0.5],"labelExpr":"'8×10²¹'","ticks":false,"labelFontSize":20,"labelPadding":9,"title":null}},
      "y2":{"field":"hi"}}},
    {"mark":{"type":"rect","opacity":0},
     "encoding":{
      "x":{"field":"lo","type":"quantitative","scale":{"domain":[0,1],"nice":false},"axis":{"orient":"top","labels":false,"ticks":false,"title":"Displacement/cm³","titleFontSize":19,"titlePadding":4}},
      "x2":{"field":"hi"},
      "y":{"field":"lo","type":"quantitative","scale":{"domain":[0,1],"nice":false},"axis":{"orient":"right","values":[0.5],"labelExpr":"'8×10²²'","ticks":false,"labelFontSize":20,"labelPadding":9,"title":null}},
      "y2":{"field":"hi"}}}
   ],
   "resolve":{"axis":{"y":"independent"}}
  },
  {"width":290,"height":156,
   "view":{"fill":"#000000","stroke":null},
   "data":{"name":"f"},
   "mark":{"type":"rect"},
   "encoding":{
    "x":{"field":"x1","type":"quantitative","scale":{"domain":[-20,20],"nice":false,"zero":false},"axis":{"values":[-20,-10,0,10,20],"labelExpr":"abs(datum.value)","tickSize":2,"labelPadding":-3,"labelFontSize":19,"title":"Width (nm)","titleFontSize":20,"titlePadding":1}},
    "x2":{"field":"x2"},
    "y":{"field":"d1","type":"quantitative","scale":{"domain":[0,30],"nice":false,"zero":false,"reverse":true},"axis":{"values":[0,10,20,30],"tickSize":3,"labelPadding":5,"labelFontSize":19,"title":"Depth (nm)","titleFontSize":20,"titlePadding":14}},
    "y2":{"field":"d2"},
    "fill":{"field":"v","type":"ordinal","scale":{"domain":[1,2,3,4,5,6,7],"range":["#c000ff","#2020ff","#00e8ff","#00ff30","#ffee00","#ff8000","#ff0000"]},"legend":null}}
  }
 ],"spacing":5,"center":true,"bounds":"flush"}
],"spacing":357,"bounds":"flush","resolve":{"scale":{"color":"independent","fill":"independent"}}}
],
"spacing":308,"bounds":"flush",
"resolve":{"scale":{"color":"independent","fill":"independent"}}
}
